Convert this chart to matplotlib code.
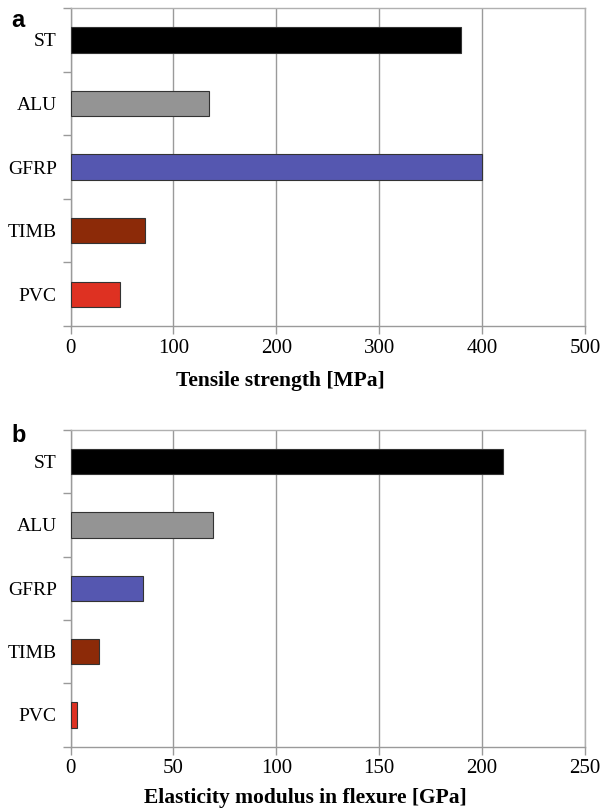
import matplotlib
matplotlib.use("Agg")
import matplotlib.pyplot as plt
import numpy as np

materials = ["ST", "ALU", "GFRP", "TIMB", "PVC"]
colors = ["#000000", "#949494", "#5557b0", "#8c2a08", "#de3122"]
tensile_strength = [380, 135, 400, 72, 48]      # MPa
flexural_modulus = [210, 69, 35, 14, 3]         # GPa

serif = ["Liberation Serif", "DejaVu Serif"]
sans = ["Liberation Sans", "DejaVu Sans"]
grid_col = "#9a9a9a"

fig = plt.figure(figsize=(6.03, 8.10), dpi=100)
ax_a = fig.add_axes([0.117, 0.5975, 0.853, 0.3926])
ax_b = fig.add_axes([0.117, 0.0782, 0.853, 0.3910])


def draw_panel(ax, values, xmax, step, xlabel, label_x, label_pad):
    n = len(materials)
    ypos = np.arange(n)[::-1]
    ax.barh(ypos, values, height=0.4, color=colors, edgecolor="#333333",
            linewidth=0.8, zorder=3)
    ax.set_xlim(0, xmax)
    ax.set_ylim(-0.5, n - 0.5)
    ax.set_xticks(np.arange(0, xmax + 1, step))
    ax.set_yticks(ypos)
    ax.set_yticklabels(materials, family=serif, fontsize=14)
    ax.set_yticks(np.arange(-0.5, n, 1.0), minor=True)
    for lab in ax.get_xticklabels():
        lab.set_family(serif)
        lab.set_fontsize(15)
    ax.tick_params(axis="y", which="major", length=0, pad=10)
    ax.tick_params(axis="y", which="minor", length=6, color=grid_col, width=1)
    ax.tick_params(axis="x", which="major", length=6, color=grid_col, width=1,
                   pad=3)
    ax.xaxis.grid(True, color=grid_col, linewidth=1, zorder=0)
    ax.set_axisbelow(True)
    for side in ["top", "right", "left", "bottom"]:
        ax.spines[side].set_color("#b0b0b0" if side in ("top", "right") else grid_col)
        ax.spines[side].set_linewidth(1)
    ax.set_xlabel(xlabel, family=serif, fontsize=15.5, fontweight="bold",
                  labelpad=label_pad)
    ax.xaxis.label.set_x(label_x)


draw_panel(ax_a, tensile_strength, 500, 100, "Tensile strength [MPa]",
           0.407, 10)
draw_panel(ax_b, flexural_modulus, 250, 50,
           "Elasticity modulus in flexure [GPa]", 0.456, 7)

# panel letters
fig.text(11 / 603, 1 - 27 / 810, "a", family=sans, fontsize=17,
         fontweight="bold", ha="left", va="baseline")
fig.text(11 / 603, 1 - 442 / 810, "b", family=sans, fontsize=17,
         fontweight="bold", ha="left", va="baseline")

fig.savefig("out.png", dpi=100, facecolor="white")
